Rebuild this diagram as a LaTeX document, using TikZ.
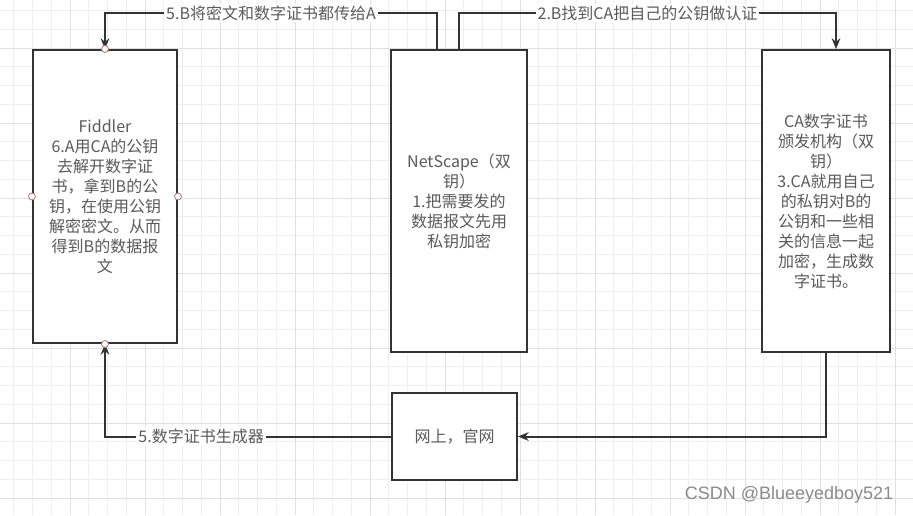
\documentclass[tikz,border=0pt]{standalone}
\usepackage{fontspec}
\newfontfamily\cjk{Noto Sans CJK SC}
\newfontfamily\wmfont{Liberation Sans}
\usetikzlibrary{arrows.meta}
\definecolor{txtgray}{HTML}{5A5A5A}
\definecolor{linegray}{HTML}{333333}
\definecolor{gridminor}{HTML}{EFEFEF}
\definecolor{gridmajor}{HTML}{E0E0E0}
\definecolor{portcol}{HTML}{B07878}
\definecolor{wmgray}{HTML}{8A8A8A}
\tikzset{
  box/.style={draw=linegray, line width=1.5pt, fill=white, inner sep=0pt,
    text=txtgray, align=center, font=\cjk\fontsize{12}{15}\selectfont},
  conn/.style={draw=linegray, line width=1.5pt, -{Stealth[length=8pt,width=6.5pt]}},
  lbl/.style={fill=white, text=txtgray, inner sep=1.5pt, font=\cjk\fontsize{12}{15}\selectfont},
  port/.style={circle, draw=portcol, fill=white, line width=0.6pt, inner sep=0pt, minimum size=5.2pt},
}
\begin{document}
\begin{tikzpicture}[x=0.75pt,y=-0.75pt]
\useasboundingbox (0,0) rectangle (913,515);
\fill[white] (0,0) rectangle (913,515);
\begin{scope}
\clip (0,0) rectangle (913,515);
\foreach \i in {0,...,48} {\draw[gridminor, line width=0.6pt] ({13.75+\i*18.75},0) -- ({13.75+\i*18.75},515);}
\foreach \j in {0,...,27} {\draw[gridminor, line width=0.6pt] (0,{10.5+\j*18.75}) -- (913,{10.5+\j*18.75});}
\foreach \i in {0,...,12} {\draw[gridmajor, line width=0.7pt] ({-5+\i*75},0) -- ({-5+\i*75},515);}
\foreach \j in {1,...,7} {\draw[gridmajor, line width=0.7pt] (0,{-27+\j*75}) -- (913,{-27+\j*75});}
\end{scope}

\node[box, minimum width=108pt, minimum height=219.75pt] (fid) at (105,196.5)
  {Fiddler\\6.A用CA的公钥\\去解开数字证\\书，拿到B的公\\钥，在使用公钥\\解密密文。从而\\得到B的数据报\\文};
\node[box, minimum width=102pt, minimum height=226.5pt] (ns) at (459,201)
  {NetScape（双\\钥）\\1.把需要发的\\数据报文先用\\私钥加密};
\node[box, minimum width=96pt, minimum height=226.5pt] (ca) at (826,201)
  {CA数字证书\\颁发机构（双\\钥）\\3.CA就用自己\\的私钥对B的\\公钥和一些相\\关的信息一起\\加密，生成数\\字证书。};
\node[box, minimum width=93.75pt, minimum height=65.25pt] (web) at (454.5,436.5) {网上，官网};

\coordinate (t1) at (437,13);
\coordinate (t2) at (459,13);
\draw[conn] ([xshift=-16.5pt]ns.north) -- (t1) -| (fid.north)
  node[lbl, pos=0.25] {5.B将密文和数字证书都传给A};
\draw[conn] (ns.north) -- (t2) -| ([xshift=7.5pt]ca.north)
  node[lbl, pos=0.25] {2.B找到CA把自己的公钥做认证};
\draw[conn] (ca.south) |- (web.east);
\draw[conn] (web.west) -| (fid.south)
  node[lbl, pos=0.332] {5.数字证书生成器};

\node[port] (pn) at (fid.north) {};
\node[port] (ps) at (fid.south) {};
\node[port] (pw) at (fid.west) {};
\node[port] (pe) at (fid.east) {};

\node[text=wmgray, font=\wmfont\fontsize{13.5}{16}\selectfont] (wm) at (789,495) {CSDN @Blueeyedboy521};
\end{tikzpicture}
\end{document}
